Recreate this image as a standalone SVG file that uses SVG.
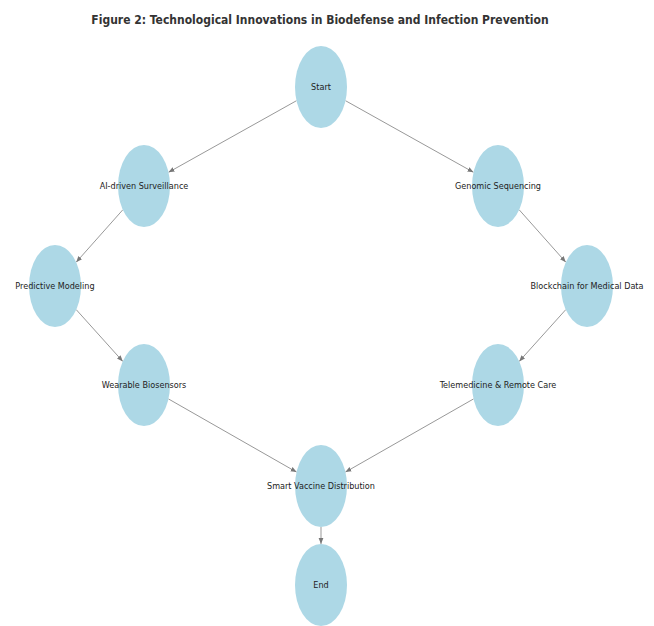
<svg xmlns="http://www.w3.org/2000/svg" width="654" height="626" viewBox="0 0 654 626">
<style>
.node ellipse{fill:#add8e6;stroke:none}
.node text{font-family:"DejaVu Sans Condensed","DejaVu Sans",sans-serif;font-stretch:condensed;font-size:9px;fill:#222;text-anchor:middle;dominant-baseline:central}
.edge{stroke:#999;stroke-width:1;fill:none;marker-end:url(#arr)}
.title{font-family:"DejaVu Sans Condensed","DejaVu Sans",sans-serif;font-stretch:condensed;font-weight:bold;font-size:12px;fill:#333;text-anchor:middle}
</style>
<defs>
<marker id="arr" viewBox="0 0 10 10" refX="10" refY="5" markerWidth="6" markerHeight="6" markerUnits="userSpaceOnUse" orient="auto">
<path d="M0,1 L10,5 L0,9 z" fill="#777"/>
</marker>
</defs>
<rect width="654" height="626" fill="#fff"/>
<text class="title" x="320" y="24">Figure 2: Technological Innovations in Biodefense and Infection Prevention</text>
<g id="connectors">
<line class="edge" x1="296.5" y1="100.7" x2="168.5" y2="172.3"/>
<line class="edge" x1="345.5" y1="100.7" x2="473.5" y2="172.3"/>
<line class="edge" x1="122.8" y1="209.8" x2="76.2" y2="262.2"/>
<line class="edge" x1="76.2" y1="309.6" x2="122.8" y2="361.4"/>
<line class="edge" x1="168.4" y1="398.9" x2="296.6" y2="472.1"/>
<line class="edge" x1="519.2" y1="209.8" x2="565.8" y2="262.2"/>
<line class="edge" x1="565.8" y1="309.6" x2="519.2" y2="361.4"/>
<line class="edge" x1="473.6" y1="398.9" x2="345.4" y2="472.1"/>
<line class="edge" x1="321" y1="527" x2="321" y2="544"/>
</g>
<g id="start" class="node"><ellipse cx="321" cy="87" rx="26" ry="41"/><text x="321" y="87">Start</text></g>
<g id="ai" class="node"><ellipse cx="144" cy="186" rx="26" ry="41"/><text x="144" y="186">AI-driven Surveillance</text></g>
<g id="genomic" class="node"><ellipse cx="498" cy="186" rx="26" ry="41"/><text x="498" y="186">Genomic Sequencing</text></g>
<g id="predictive" class="node"><ellipse cx="55" cy="286" rx="26" ry="41"/><text x="55" y="286">Predictive Modeling</text></g>
<g id="blockchain" class="node"><ellipse cx="587" cy="286" rx="26" ry="41"/><text x="587" y="286">Blockchain for Medical Data</text></g>
<g id="wearable" class="node"><ellipse cx="144" cy="385" rx="26" ry="41"/><text x="144" y="385">Wearable Biosensors</text></g>
<g id="telemedicine" class="node"><ellipse cx="498" cy="385" rx="26" ry="41"/><text x="498" y="385">Telemedicine &amp; Remote Care</text></g>
<g id="smart" class="node"><ellipse cx="321" cy="486" rx="26" ry="41"/><text x="321" y="486">Smart Vaccine Distribution</text></g>
<g id="end" class="node"><ellipse cx="321" cy="585" rx="26" ry="41"/><text x="321" y="585">End</text></g>
</svg>
